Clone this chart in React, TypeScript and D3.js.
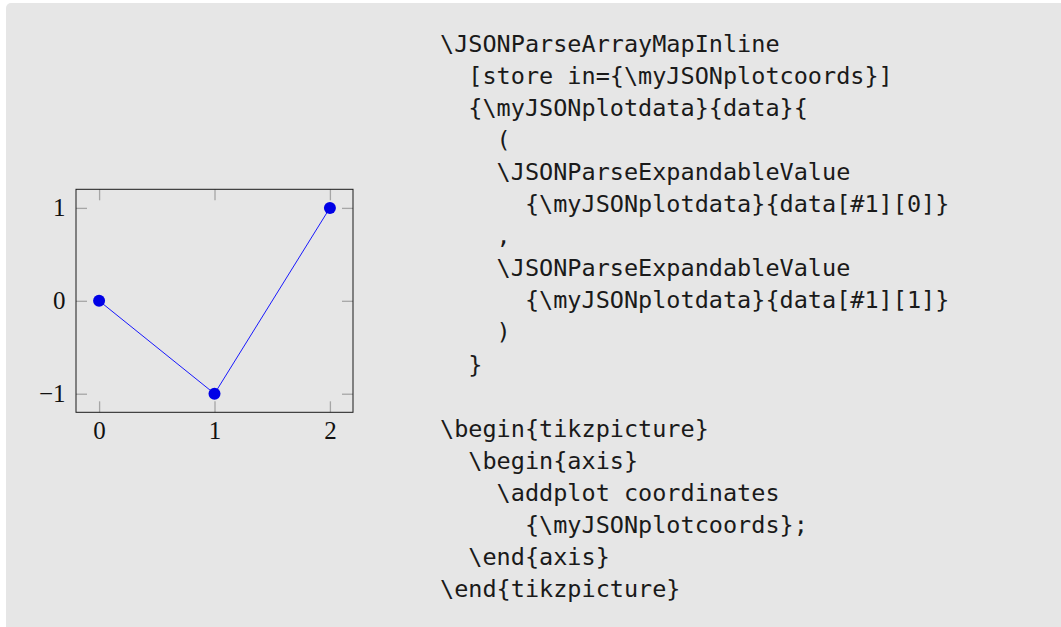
import * as React from 'react';
import { useEffect, useRef } from 'react';
import * as d3 from 'd3';

// plotted coordinates
const xValues = [0, 1, 2];
const yValues = [0, -1, 1];

// tick labels
const xTicks = [0, 1, 2];
const yTicks = [-1, 0, 1];

// listing shown next to the plot
const codeLines = [
    '\\JSONParseArrayMapInline',
    '  [store in={\\myJSONplotcoords}]',
    '  {\\myJSONplotdata}{data}{',
    '    (',
    '    \\JSONParseExpandableValue',
    '      {\\myJSONplotdata}{data[#1][0]}',
    '    ,',
    '    \\JSONParseExpandableValue',
    '      {\\myJSONplotdata}{data[#1][1]}',
    '    )',
    '  }',
    '',
    '\\begin{tikzpicture}',
    '  \\begin{axis}',
    '    \\addplot coordinates',
    '      {\\myJSONplotcoords};',
    '  \\end{axis}',
    '\\end{tikzpicture}',
];

const W = 1061;
const H = 627;

const plot = { left: 76, right: 353, top: 189.3, bottom: 412.3 };
const tickLen = 11;
const labelFont = '"Liberation Serif", "DejaVu Serif", serif';

const App: React.FC = () => {
    const gRef = useRef<SVGGElement | null>(null);

    const xScale = d3.scaleLinear().domain([-0.2, 2.2]).range([plot.left, plot.right]);
    const yScale = d3.scaleLinear().domain([-1.2, 1.2]).range([plot.bottom, plot.top]);

    useEffect(() => {
        if (!gRef.current) return;
        const g = d3.select(gRef.current);
        g.selectAll('*').remove();

        const bottom = d3.axisBottom(xScale).tickValues(xTicks).tickSizeInner(-tickLen).tickSizeOuter(0).tickPadding(9).tickFormat(d3.format('d'));
        const top = d3.axisTop(xScale).tickValues(xTicks).tickSizeInner(-tickLen).tickSizeOuter(0).tickFormat(() => '');
        const left = d3.axisLeft(yScale).tickValues(yTicks).tickSizeInner(-tickLen).tickSizeOuter(0).tickPadding(10.5)
            .tickFormat((d) => (+d < 0 ? '\u2212' + Math.abs(+d) : String(d)));
        const right = d3.axisRight(yScale).tickValues(yTicks).tickSizeInner(-tickLen).tickSizeOuter(0).tickFormat(() => '');

        g.append('g').attr('transform', `translate(0,${plot.bottom})`).call(bottom);
        g.append('g').attr('transform', `translate(0,${plot.top})`).call(top);
        g.append('g').attr('transform', `translate(${plot.left},0)`).call(left);
        g.append('g').attr('transform', `translate(${plot.right},0)`).call(right);

        g.selectAll('.domain').remove();
        g.selectAll('.tick line').attr('stroke', '#a6a6a6').attr('stroke-width', 1.3);
        g.selectAll('.tick text')
            .attr('fill', '#111')
            .attr('font-family', labelFont)
            .attr('font-size', 25);
    }, []);

    const line = d3.line<number>()
        .x((_, i) => xScale(xValues[i]))
        .y((d) => yScale(d));

    return (
        <svg width={W} height={H} style={{ position: 'absolute', left: 0, top: 0, background: '#fff' }}>
            <rect x={6} y={3} width={W + 10} height={H + 10} rx={5} fill="#e6e6e6" />

            <g ref={gRef} />
            <rect
                x={plot.left}
                y={plot.top}
                width={plot.right - plot.left}
                height={plot.bottom - plot.top}
                fill="none"
                stroke="#1a1a1a"
                strokeWidth={1}
            />

            <path d={line(yValues) || ''} fill="none" stroke="#0000ff" strokeWidth={0.9} />
            {yValues.map((v, i) => (
                <circle key={i} cx={xScale(xValues[i])} cy={yScale(v)} r={6} fill="#0000e6" />
            ))}

            <g fontFamily='"DejaVu Sans Mono", "Liberation Mono", monospace' fontSize={23.5} fill="#1a1a1a">
                {codeLines.map((txt, i) => (
                    <text key={i} x={440} y={51.5 + i * 32.1} style={{ whiteSpace: 'pre' }}>
                        {txt}
                    </text>
                ))}
            </g>
        </svg>
    );
};

export default App;
